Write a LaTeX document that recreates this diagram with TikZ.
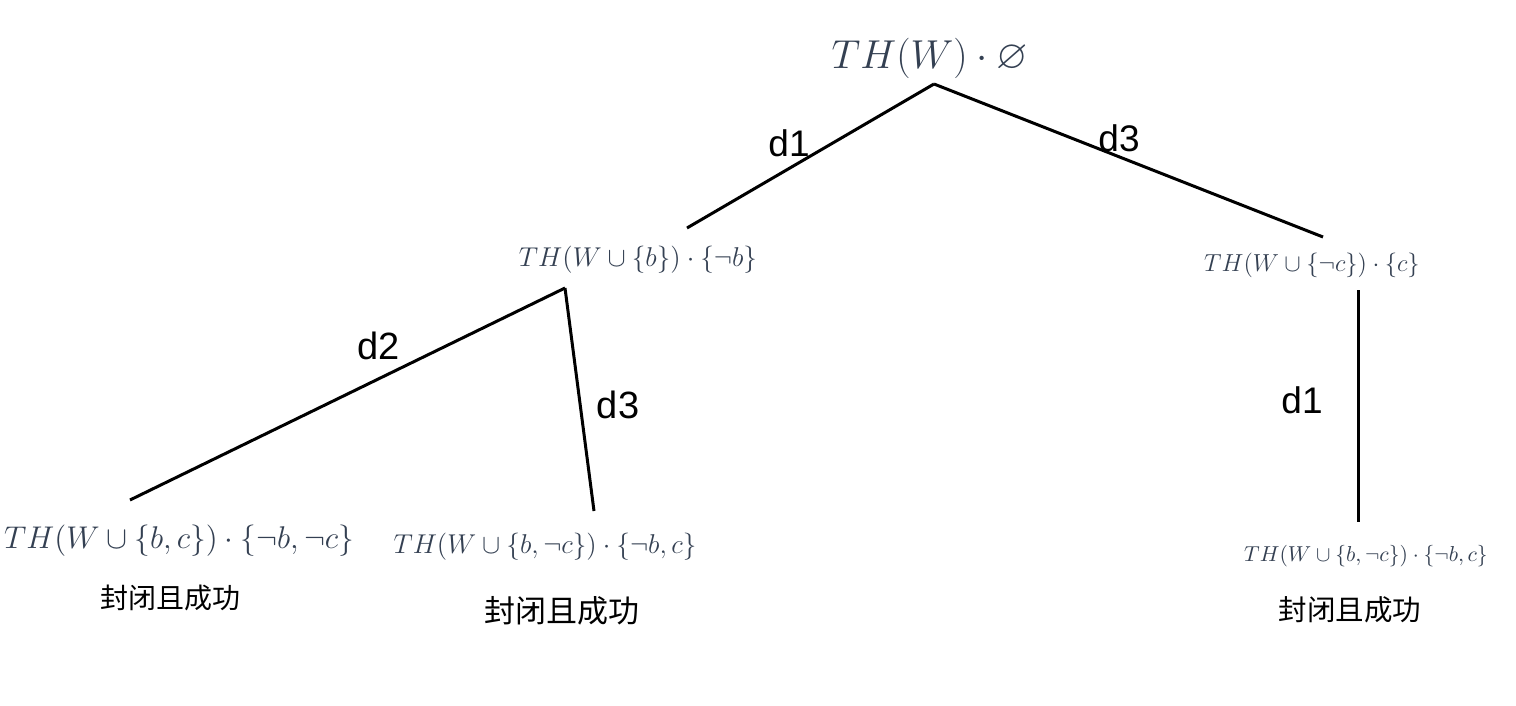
\documentclass[tikz,border=0pt]{standalone}
\usepackage{fix-cm}
\usepackage{amssymb}
\usepackage{fontspec}
\newfontfamily\labelfont{Liberation Sans}
\newfontfamily\cjk{Noto Sans CJK SC}
\definecolor{mathgray}{RGB}{52,64,82}
\newcommand{\fs}[1]{\fontsize{#1}{1.2\dimexpr#1pt\relax}\selectfont}
\begin{document}
\begin{tikzpicture}[x=0.5pt,y=-0.5pt]
\tikzset{
  state/.style={inner sep=0pt,text=mathgray},
  result/.style={inner sep=0pt,font=\cjk},
  dlabel/.style={inner sep=0pt,font=\labelfont},
  edgeu/.style={-,line width=1.5pt}
}
\useasboundingbox (0,0) rectangle (1516,706);
% nós (estados da árvore)
\node[state] (root) at (930,58)  {\fs{20.2}$TH(W)\cdot\varnothing$};
\node[state] (b)    at (638,260) {\fs{13.6}$TH(W\cup\{b\})\cdot\{\neg b\}$};
\node[state] (c)    at (1312,265){\fs{12.3}$TH(W\cup\{\neg c\})\cdot\{c\}$};
\node[state] (bc)   at (179,541) {\fs{15.7}$TH(W\cup\{b,c\})\cdot\{\neg b,\neg c\}$};
\node[state] (bnc)  at (545,547) {\fs{13.6}$TH(W\cup\{b,\neg c\})\cdot\{\neg b,c\}$};
\node[state] (cb)   at (1366,556){\fs{10.8}$TH(W\cup\{b,\neg c\})\cdot\{\neg b,c\}$};

% resultados
\node[result] (bc-ok)  at (170,598)  {\fs{14}封闭且成功};
\node[result] (bnc-ok) at (562,611)  {\fs{15.5}封闭且成功};
\node[result] (cb-ok)  at (1350,610) {\fs{14.25}封闭且成功};

% pontas das arestas
\coordinate (root-s) at (934,84);
\coordinate (b-n)    at (687,228);
\coordinate (c-n)    at (1323,237);
\coordinate (b-s)    at (565,288);
\coordinate (bc-n)   at (130,500);
\coordinate (bnc-n)  at (594,511);
\coordinate (c-s)    at (1358,290);
\coordinate (cb-n)   at (1358,522);

% arestas
\draw[edgeu] (root-s) -- (b-n);
\draw[edgeu] (root-s) -- (c-n);
\draw[edgeu] (b-s) -- (bc-n);
\draw[edgeu] (b-s) -- (bnc-n);
\draw[edgeu] (c-s) -- (cb-n);

% rótulos das arestas
\node[dlabel] (l1) at (789,143)  {\fs{18.5}d1};
\node[dlabel] (l2) at (1119,138) {\fs{18.5}d3};
\node[dlabel] (l3) at (379,346)  {\fs{19}d2};
\node[dlabel] (l4) at (618,405)  {\fs{19}d3};
\node[dlabel] (l5) at (1302,400) {\fs{18.5}d1};
\end{tikzpicture}
\end{document}
